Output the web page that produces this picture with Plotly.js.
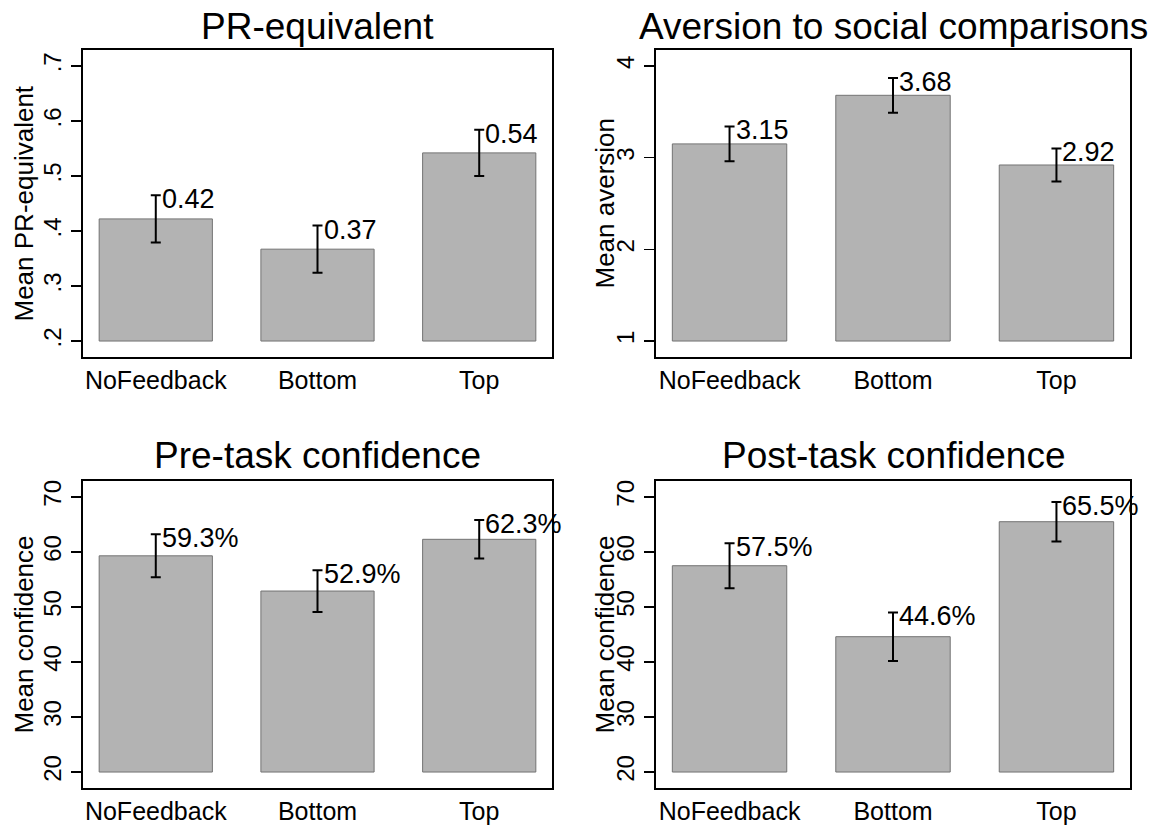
<!DOCTYPE html>
<html>
<head>
<meta charset="utf-8">
<script src="https://cdn.plot.ly/plotly-3.0.1.min.js"></script>
<style>
html,body{margin:0;padding:0;background:#fff;}
#chart{width:1161px;height:828px;}
</style>
</head>
<body>
<div id="chart"></div>
<script>
// ---- data ----
const categories = ['NoFeedback', 'Bottom', 'Top'];

const panelTitles = ['PR-equivalent', 'Aversion to social comparisons', 'Pre-task confidence', 'Post-task confidence'];
const yTitles = ['Mean PR-equivalent', 'Mean aversion', 'Mean confidence', 'Mean confidence'];

const prMean = [0.422, 0.367, 0.542];
const prErr = [0.043, 0.043, 0.042];

const aversionMean = [3.15, 3.68, 2.92];
const aversionErr = [0.19, 0.19, 0.18];

const preConfMean = [59.3, 52.9, 62.3];
const preConfErr = [3.9, 3.8, 3.5];

const postConfMean = [57.5, 44.6, 65.5];
const postConfErr = [4.1, 4.4, 3.6];

const prTicks = [0.2, 0.3, 0.4, 0.5, 0.6, 0.7];
const prTickText = ['.2', '.3', '.4', '.5', '.6', '.7'];
const aversionTicks = [1, 2, 3, 4];
const aversionTickText = ['1', '2', '3', '4'];
const confTicks = [20, 30, 40, 50, 60, 70];
const confTickText = ['20', '30', '40', '50', '60', '70'];

// ---- layout / styling ----
const W = 1161, H = 828;
const FONT = 'Liberation Sans, Arial, Helvetica, sans-serif';
const px = (a, b) => [a / W, b / W];
const py = (top, bottom) => [1 - bottom / H, 1 - top / H];

const panels = [
  {mean: prMean, err: prErr, ticks: prTicks, tickText: prTickText, base: 0.2, range: [0.171, 0.729],
   fmt: v => v.toFixed(2), xd: px(83, 552), yd: py(50, 357), ytx: 23},
  {mean: aversionMean, err: aversionErr, ticks: aversionTicks, tickText: aversionTickText, base: 1, range: [0.826, 4.174],
   fmt: v => v.toFixed(2), xd: px(656, 1130), yd: py(50, 357), ytx: 604},
  {mean: preConfMean, err: preConfErr, ticks: confTicks, tickText: confTickText, base: 20, range: [17.1, 72.9],
   fmt: v => v.toFixed(1) + '%', xd: px(83, 552), yd: py(481, 788), ytx: 23},
  {mean: postConfMean, err: postConfErr, ticks: confTicks, tickText: confTickText, base: 20, range: [17.1, 72.9],
   fmt: v => v.toFixed(1) + '%', xd: px(656, 1130), yd: py(481, 788), ytx: 604}
];

const traces = [];
const annotations = [];
const layout = {
  width: W, height: H,
  margin: {l: 0, r: 0, t: 0, b: 0},
  paper_bgcolor: '#ffffff',
  plot_bgcolor: '#ffffff',
  showlegend: false,
  font: {family: FONT, color: '#000000', size: 24},
  annotations: annotations
};

const titleY = [26, 26, 455, 455];

panels.forEach((p, i) => {
  const n = i + 1;
  const xa = n === 1 ? 'x' : 'x' + n;
  const ya = n === 1 ? 'y' : 'y' + n;

  traces.push({
    type: 'bar',
    x: categories,
    y: p.mean.map(v => v - p.base),
    base: p.base,
    width: 0.7,
    xaxis: xa, yaxis: ya,
    marker: {color: '#b3b3b3', line: {color: '#737373', width: 1}},
    hoverinfo: 'skip'
  });

  traces.push({
    type: 'scatter',
    mode: 'markers',
    x: categories,
    y: p.mean,
    xaxis: xa, yaxis: ya,
    marker: {size: 2, color: 'rgba(0,0,0,0)'},
    error_y: {type: 'data', array: p.err, visible: true, color: '#000000', thickness: 2, width: 5},
    cliponaxis: false,
    hoverinfo: 'skip'
  });

  categories.forEach((c, k) => {
    annotations.push({
      xref: xa, yref: ya,
      x: c, y: p.mean[k] + p.err[k],
      text: p.fmt(p.mean[k]),
      showarrow: false,
      xanchor: 'left', yanchor: 'middle',
      xshift: 4, yshift: -4,
      font: {family: FONT, size: 27, color: '#000000'}
    });
  });

  // panel title
  annotations.push({
    xref: 'paper', yref: 'paper',
    x: (p.xd[0] + p.xd[1]) / 2, y: 1 - titleY[i] / H,
    text: panelTitles[i],
    showarrow: false,
    xanchor: 'center', yanchor: 'middle',
    font: {family: FONT, size: 37, color: '#000000'}
  });

  // y axis title
  annotations.push({
    xref: 'paper', yref: 'paper',
    x: p.ytx / W, y: (p.yd[0] + p.yd[1]) / 2,
    text: yTitles[i],
    textangle: -90,
    showarrow: false,
    xanchor: 'center', yanchor: 'middle',
    font: {family: FONT, size: 26, color: '#000000'}
  });

  layout['xaxis' + (n === 1 ? '' : n)] = {
    domain: p.xd,
    anchor: ya,
    type: 'category',
    range: [-0.45, 2.45],
    showline: true, mirror: true, linecolor: '#000000', linewidth: 2,
    showgrid: false, zeroline: false,
    ticks: '',
    tickfont: {family: FONT, size: 25, color: '#000000'},
    automargin: false,
    fixedrange: true
  };

  layout['yaxis' + (n === 1 ? '' : n)] = {
    domain: p.yd,
    anchor: xa,
    range: p.range,
    tickmode: 'array',
    tickvals: p.ticks,
    ticktext: p.tickText,
    tickangle: -90,
    showline: true, mirror: true, linecolor: '#000000', linewidth: 2,
    showgrid: false, zeroline: false,
    ticks: 'outside', ticklen: 10, tickwidth: 1.5, tickcolor: '#000000',
    tickfont: {family: FONT, size: 24, color: '#000000'},
    automargin: false,
    fixedrange: true
  };
});

Plotly.newPlot('chart', traces, layout, {displayModeBar: false, staticPlot: true});
</script>
</body>
</html>
